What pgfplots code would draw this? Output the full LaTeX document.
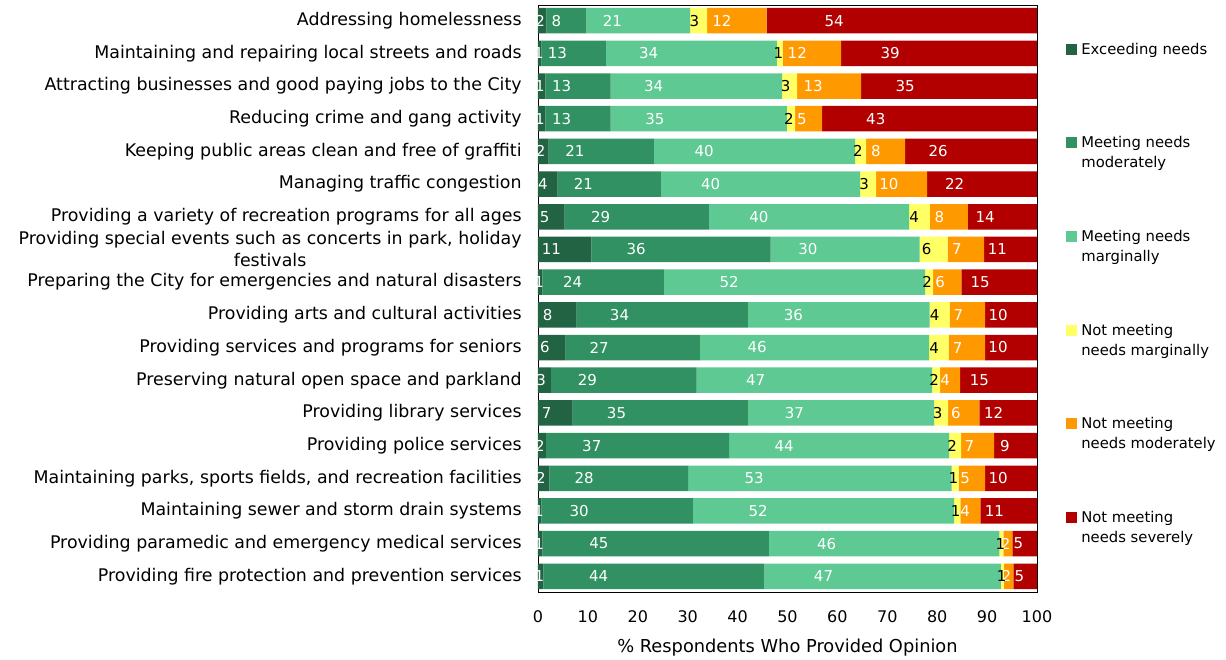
\documentclass[border=0pt]{standalone}
\usepackage{pgfplots}
\pgfplotsset{compat=1.18}
\usepackage{pgfplotstable}
\usepackage{fontspec}
\setmainfont{DejaVu Sans}
\definecolor{c1}{HTML}{216342}
\definecolor{c2}{HTML}{319162}
\definecolor{c3}{HTML}{5EC992}
\definecolor{c4}{HTML}{FFFF66}
\definecolor{c5}{HTML}{FF9900}
\definecolor{c6}{HTML}{B20000}
\pgfplotstableread{
row a b c d e f
0 1.7 8.0 20.8 3.4 11.9 54.2
1 0.67 12.91 34.31 1.14 11.71 39.26
2 1.47 13.11 34.32 3.01 12.84 35.25
3 1.47 13.11 35.32 1.61 5.41 43.08
4 2.14 21.07 40.34 2.21 7.83 26.41
5 3.95 20.67 39.93 3.21 10.23 22.01
6 5.35 28.9 40.1 4.2 7.6 13.85
7 10.7 35.9 29.9 5.6 7.3 10.6
8 0.87 24.35 52.37 1.61 5.62 15.18
9 7.76 34.31 36.4 4.02 7.11 10.4
10 5.55 26.89 45.95 3.9 7.3 10.41
11 2.6 29.2 47.2 1.6 4.0 15.4
12 6.96 35.11 37.33 2.81 6.22 11.57
13 1.6 36.7 44.1 2.4 6.6 8.6
14 2.3 27.8 52.8 1.4 5.3 10.4
15 0.67 30.37 52.37 1.21 4.01 11.37
16 0.87 45.42 46.15 0.80 1.81 4.95
17 1.07 44.3 47.4 0.6 1.9 4.73
}\datatable
\begin{document}
\begin{tikzpicture}
\begin{axis}[
  xbar stacked,
  scale only axis,
  width=249.5pt, height=293.5pt,
  bar width=12.75pt,
  xmin=0, xmax=100,
  ymin=-0.48, ymax=17.48,
  y dir=reverse,
  ytick={0,...,17},
  yticklabels={
    Addressing homelessness,
    Maintaining and repairing local streets and roads,
    Attracting businesses and good paying jobs to the City,
    Reducing crime and gang activity,
    Keeping public areas clean and free of graffiti,
    Managing traffic congestion,
    Providing a variety of recreation programs for all ages,
    {Providing special events such as concerts in park, holiday\\festivals},
    Preparing the City for emergencies and natural disasters,
    Providing arts and cultural activities,
    Providing services and programs for seniors,
    Preserving natural open space and parkland,
    Providing library services,
    Providing police services,
    {Maintaining parks, sports fields, and recreation facilities},
    Maintaining sewer and storm drain systems,
    Providing paramedic and emergency medical services,
    Providing fire protection and prevention services},
  xtick={0,10,...,100},
  major tick length=0pt,
  axis line style={black},
  /pgf/number format/assume math mode=true,
  xticklabel style={font=\fontsize{8}{10}\selectfont, yshift=-6pt},
  yticklabel style={font=\fontsize{8.7}{11}\selectfont, align=center, inner sep=0pt, xshift=-8pt},
  xlabel={\% Respondents Who Provided Opinion},
  xlabel style={font=\fontsize{8.9}{10}\selectfont, yshift=-1pt},
  visualization depends on={rawx \as \rawx},
  nodes near coords={\pgfmathprintnumber[fixed,precision=0]{\rawx}},
  every node near coord/.style={anchor=center, xshift={-\rawx*0.62375pt}, font=\fontsize{7.5}{9}\selectfont, inner sep=0pt},
  legend style={at={(1.058,0.937)}, anchor=north west, draw=none, fill=none,
    font=\fontsize{7.4}{10}\selectfont, row sep=28.8pt, column sep=2pt, inner sep=0pt,
    nodes={align=left, text height=16pt, text depth=2pt, inner sep=0pt}},
  legend cell align=left,
  legend image code/.code={\fill[#1] (0pt,2.8pt) rectangle (5.5pt,8.3pt);},
]
\addplot[fill=c1, draw=none, every node near coord/.append style={text=white}] table[x=a, y=row] {\datatable};
\addplot[fill=c2, draw=none, every node near coord/.append style={text=white}] table[x=b, y=row] {\datatable};
\addplot[fill=c3, draw=none, every node near coord/.append style={text=white}] table[x=c, y=row] {\datatable};
\addplot[fill=c4, draw=none, every node near coord/.append style={text=black}] table[x=d, y=row] {\datatable};
\addplot[fill=c5, draw=none, every node near coord/.append style={text=white}] table[x=e, y=row] {\datatable};
\addplot[fill=c6, draw=none, every node near coord/.append style={text=white}] table[x=f, y=row] {\datatable};
\legend{{Exceeding needs\\\mbox{}}, {Meeting needs\\moderately}, {Meeting needs\\marginally}, {Not meeting\\needs marginally}, {Not meeting\\needs moderately}, {Not meeting\\needs severely}}
\end{axis}
\pgfresetboundingbox
\path[use as bounding box] (current axis.south west) ++(-269pt,-33.5pt) rectangle ++(613pt,329.5pt);
\end{tikzpicture}
\end{document}
